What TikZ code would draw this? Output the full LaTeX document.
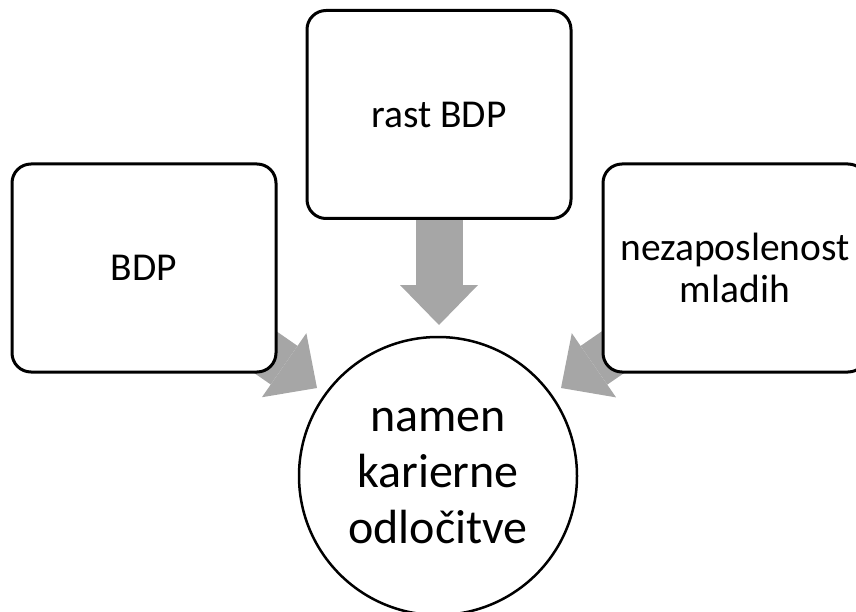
\documentclass[tikz,border=0pt]{standalone}
\usepackage{fontspec}
\setmainfont{Carlito}
\usetikzlibrary{arrows.meta,backgrounds}
\definecolor{arrowgray}{HTML}{A6A6A6}
\begin{document}
\begin{tikzpicture}[x=1pt,y=-1pt,
  box/.style={draw=black, line width=3pt, rounded corners=19pt, fill=white,
    minimum width=264pt, minimum height=208pt, inner sep=0pt, align=center,
    font=\fontsize{39.5}{42}\selectfont},
  hub/.style={circle, draw=black, line width=2.5pt, fill=white, minimum size=278pt,
    inner sep=0pt, align=center, font=\fontsize{48}{56}\selectfont},
  blockarrow/.style={draw=arrowgray, line width=47pt,
    -{Triangle[length=40pt,width=78pt,line width=0pt]}}]
\clip (0,0) rectangle (856,612);
\node[box] (top) at (439,114.5) {rast BDP};
\node[box] (left) at (144,268) {BDP};
\node[box] (right) at (735,268) {nezaposlenost\\mladih};
\node[hub] (goal) at (438,476) {namen\\karierne\\odločitve};
\coordinate (tipT) at (439,325);
\coordinate (tipL) at (317,388);
\coordinate (tipR) at (561,388);
\begin{scope}[on background layer]
  \draw[blockarrow] (top.center) -- (tipT);
  \draw[blockarrow] (left.center) -- (tipL);
  \draw[blockarrow] (right.center) -- (tipR);
\end{scope}
\end{tikzpicture}
\end{document}
